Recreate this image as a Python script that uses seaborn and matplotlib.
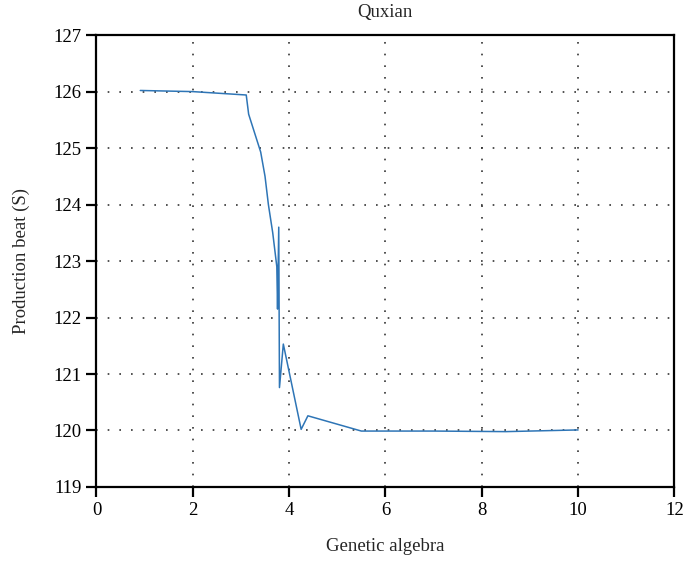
import numpy as np
import pandas as pd
import seaborn as sns
import matplotlib
matplotlib.use("Agg")
import matplotlib.pyplot as plt

# generation vs production beat
generation = [0.91, 2.0, 3.11, 3.16, 3.41, 3.50, 3.57, 3.66, 3.745, 3.76, 3.785, 3.80, 3.88, 4.25, 4.39, 5.5, 7.0, 8.5, 10.0]
beat = [126.02, 126.0, 125.94, 125.6, 124.93, 124.5, 124.0, 123.5, 122.9, 122.15, 123.6, 120.76, 121.53, 120.02, 120.26, 119.99, 119.99, 119.98, 120.01]

df = pd.DataFrame({"Genetic algebra": generation, "Production beat (S)": beat})

sns.set_style("ticks")
plt.rcParams['font.family'] = ['Liberation Serif', 'DejaVu Serif']

fig = plt.figure(figsize=(6.84, 5.62), dpi=100)
ax = fig.add_axes([0.141, 0.1335, 0.845, 0.804])

sns.lineplot(data=df, x="Genetic algebra", y="Production beat (S)", sort=False,
             estimator=None, color="#2e75b6", linewidth=1.1, ax=ax)

ax.set_xlim(0, 12)
ax.set_ylim(119, 127)
ax.set_xticks(range(0, 13, 2))
ax.set_yticks(range(119, 128))
ax.grid(True, color="#333333", linestyle=(0, (1, 6)), linewidth=1.2)
for s in ax.spines.values():
    s.set_visible(True)
    s.set_linewidth(1.6)
    s.set_color("black")
ax.tick_params(direction="out", length=7, width=1.6, labelsize=13.5, colors="black")
ax.set_title("Quxian", fontsize=13.5, pad=13)
ax.set_xlabel("Genetic algebra", fontsize=13.5, labelpad=14)
ax.set_ylabel("Production beat (S)", fontsize=13.5, labelpad=17)

fig.savefig("out.png", dpi=100)
